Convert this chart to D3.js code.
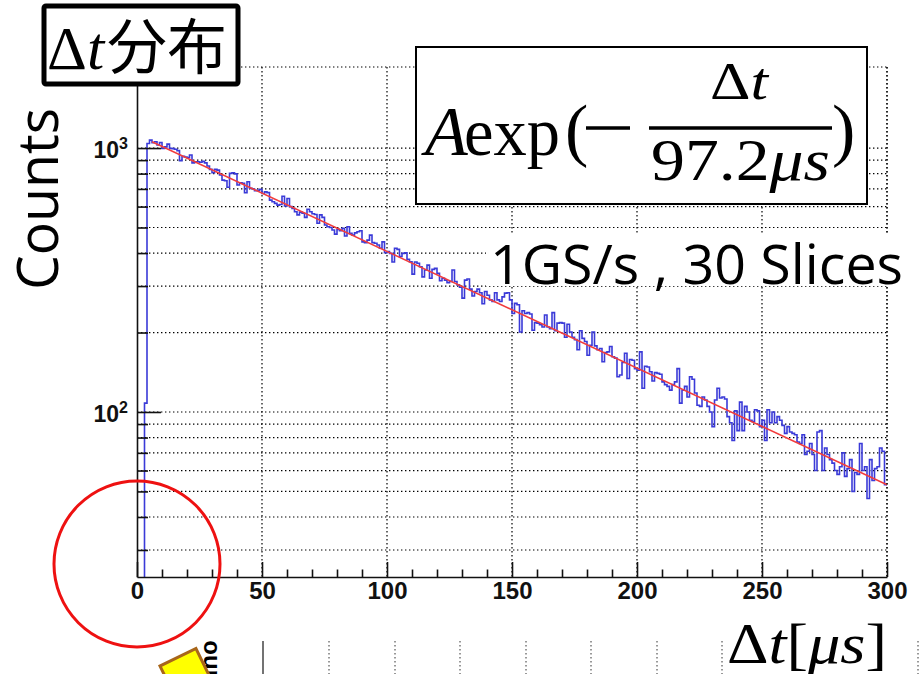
<!DOCTYPE html>
<html>
<head>
<meta charset="utf-8">
<script src="https://cdn.jsdelivr.net/npm/d3@7"></script>
<style>
  body { margin: 0; background: #fff; }
  svg { display: block; }
</style>
</head>
<body>
<div id="chart"></div>
<script>
// counts per 1 µs bin, Δt = 0 .. 299 µs
const binCounts = [
  0, 0, 0, 108, 1040, 1072, 1047, 1056, 1027, 1050,
  997, 1010, 1035, 997, 995, 990, 978, 896, 930, 925,
  920, 941, 879, 887, 887, 884, 890, 879, 855, 830,
  806, 830, 825, 790, 756, 752, 710, 802, 806, 798,
  724, 739, 735, 677, 745, 704, 700, 689, 692, 697,
  673, 682, 678, 635, 626, 617, 608, 611, 657, 603,
  644, 600, 591, 574, 558, 572, 566, 546, 586, 574,
  564, 560, 519, 558, 546, 511, 503, 500, 489, 472,
  492, 486, 496, 464, 503, 475, 468, 477, 482, 486,
  441, 438, 448, 468, 438, 436, 429, 417, 441, 401,
  405, 399, 370, 417, 413, 388, 399, 401, 379, 371,
  333, 370, 366, 355, 325, 345, 360, 321, 347, 350,
  335, 314, 321, 316, 309, 312, 345, 312, 303, 297,
  270, 316, 319, 292, 275, 286, 292, 283, 257, 286,
  277, 266, 262, 283, 266, 262, 273, 282, 283, 266,
  236, 258, 255, 201, 242, 236, 238, 235, 204, 218,
  217, 214, 210, 233, 210, 207, 238, 203, 217, 218,
  217, 192, 215, 201, 192, 188, 172, 203, 190, 185,
  164, 179, 201, 178, 172, 174, 155, 168, 169, 177,
  162, 160, 136, 138, 154, 167, 134, 158, 157, 146,
  144, 169, 123, 149, 148, 142, 131, 141, 140, 139,
  130, 127, 125, 121, 127, 130, 146, 108, 121, 125,
  114, 136, 133, 118, 106, 105, 114, 111, 105, 100,
  88, 111, 123, 113, 114, 112, 96, 91, 78, 101,
  85, 109, 85, 105, 100, 93, 92, 102, 101, 88,
  93, 78, 102, 91, 100, 91, 96, 93, 89, 83,
  88, 84, 83, 82, 77, 76, 82, 69, 71, 76,
  69, 60, 84, 85, 60, 73, 69, 66, 64, 60,
  58, 62, 70, 57, 61, 66, 50, 59, 58, 76,
  60, 62, 47, 66, 55, 61, 62, 73, 71, 53
];

// fitted exponential, read at both ends of the red line
const fitPoints = [
  { t: 6, count: 1056 },
  { t: 300, count: 53 }
];

const xDomain = [0, 300];
const yDomain = [23.7, 2028];
const xMajorTicks = [0, 50, 100, 150, 200, 250, 300];
const xMinorTicks = [10, 20, 30, 40, 60, 70, 80, 90, 110, 120, 130, 140, 160, 170, 180, 190,
                     210, 220, 230, 240, 260, 270, 280, 290];
const yMajorTicks = [100, 1000];
const yMinorTicks = [30, 40, 50, 60, 70, 80, 90, 200, 300, 400, 500, 600, 700, 800, 900];

const yTitle = "Counts";
const settingsText = "1GS/s , 30 Slices";
const tauText = "97.2";

const W = 919, H = 674;
const margin = { top: 67, right: 32, bottom: 97, left: 137 };
const width = W - margin.left - margin.right;
const height = H - margin.top - margin.bottom;

const svg = d3.select("#chart").append("svg")
  .attr("width", W)
  .attr("height", H);

svg.append("rect").attr("width", W).attr("height", H).attr("fill", "#fff");

// ---- bits of the slide underneath (only the strip below the canvas shows)
svg.append("clipPath").attr("id", "underClip")
  .append("rect").attr("x", 0).attr("y", 640).attr("width", W).attr("height", 40);

const under = svg.append("g").attr("clip-path", "url(#underClip)");
under.append("line")
  .attr("x1", 263).attr("x2", 263).attr("y1", 641).attr("y2", H)
  .style("stroke", "#444").style("stroke-width", 1.5);
[329, 395, 460, 526, 591, 657, 722, 918].forEach(x => {
  under.append("line")
    .attr("x1", x).attr("x2", x).attr("y1", 641).attr("y2", H)
    .style("stroke", "#333").style("stroke-width", 1)
    .style("stroke-dasharray", "1.5,2.5");
});
under.append("text")
  .attr("transform", "translate(204,623) rotate(90)")
  .style("font-family", "'Liberation Sans', Arial, sans-serif")
  .style("font-weight", "bold")
  .style("font-size", "24px")
  .text("Counts");
under.append("rect")
  .attr("x", 0).attr("y", 0).attr("width", 40).attr("height", 40)
  .attr("transform", "translate(160,666) rotate(-26)")
  .style("fill", "#ffff00").style("stroke", "#a8661a").style("stroke-width", 3);

// ---- ROOT canvas
const chart = svg.append("g")
  .attr("transform", `translate(${margin.left},${margin.top})`);

const xScale = d3.scaleLinear().domain(xDomain).range([0, width]);
const yScale = d3.scaleLog().domain(yDomain).range([height, 0]);

const dotted = sel => sel
  .style("stroke", "#000")
  .style("stroke-width", 1.2)
  .style("stroke-dasharray", "1.4,2.6");

// grid
chart.append("g").attr("class", "grid-x")
  .selectAll("line")
  .data(xMajorTicks.slice(1))
  .enter().append("line")
  .attr("x1", d => xScale(d)).attr("x2", d => xScale(d))
  .attr("y1", 0).attr("y2", height)
  .call(dotted);

chart.append("g").attr("class", "grid-y")
  .selectAll("line")
  .data(yMajorTicks.concat(yMinorTicks))
  .enter().append("line")
  .attr("x1", 0).attr("x2", width)
  .attr("y1", d => yScale(d)).attr("y2", d => yScale(d))
  .call(dotted);

chart.append("line")
  .attr("x1", 0).attr("x2", width).attr("y1", 0).attr("y2", 0)
  .call(dotted);

// histogram
const histPoints = [];
const firstBin = binCounts.findIndex(c => c > 0);
histPoints.push({ t: firstBin, count: yDomain[0] });
binCounts.forEach((c, i) => {
  if (i >= firstBin) histPoints.push({ t: i, count: c });
});
histPoints.push({ t: binCounts.length, count: binCounts[binCounts.length - 1] });

const histLine = d3.line()
  .x(d => xScale(d.t))
  .y(d => yScale(d.count))
  .curve(d3.curveStepAfter);

chart.append("path")
  .datum(histPoints)
  .attr("d", histLine)
  .style("fill", "none")
  .style("stroke", "#3a3ad8")
  .style("stroke-width", 1.6);

// fit
chart.append("path")
  .datum(fitPoints)
  .attr("d", d3.line().x(d => xScale(d.t)).y(d => yScale(d.count)))
  .style("fill", "none")
  .style("stroke", "#f23c3c")
  .style("stroke-width", 1.5);

// axes
const tickFont = "'Liberation Sans', Arial, Helvetica, sans-serif";

const xAxis = d3.axisBottom(xScale)
  .tickValues(xMajorTicks).tickSize(-15).tickSizeOuter(0).tickPadding(5)
  .tickFormat(d3.format("d"));
const xAxisG = chart.append("g")
  .attr("class", "x-axis")
  .attr("transform", `translate(0,${height})`)
  .call(xAxis);
chart.append("g")
  .attr("transform", `translate(0,${height})`)
  .call(d3.axisBottom(xScale).tickValues(xMinorTicks).tickSize(-7.5).tickFormat(""))
  .select(".domain").remove();

const yAxis = d3.axisLeft(yScale)
  .tickValues(yMajorTicks).tickSize(-24).tickSizeOuter(0).tickPadding(9);
const yAxisG = chart.append("g").attr("class", "y-axis").call(yAxis);
chart.append("g")
  .call(d3.axisLeft(yScale).tickValues(yMinorTicks).tickSize(-11).tickFormat(""))
  .select(".domain").remove();

chart.selectAll(".x-axis .domain, .y-axis .domain")
  .style("stroke", "#111").style("stroke-width", 1.6);
chart.selectAll(".tick line").style("stroke", "#111").style("stroke-width", 1.6);

xAxisG.selectAll("text")
  .style("font-family", tickFont).style("font-weight", "bold")
  .style("font-size", "24px").style("fill", "#111");

yAxisG.selectAll("text")
  .attr("dy", "0.42em")
  .style("font-family", tickFont).style("font-weight", "bold")
  .style("font-size", "23px").style("fill", "#111")
  .each(function (d) {
    const t = d3.select(this).text("");
    t.append("tspan").text("10");
    t.append("tspan").attr("dy", "-9").style("font-size", "16px")
      .text(Math.round(Math.log10(d)));
  });

// right frame edge
chart.append("line")
  .attr("x1", width).attr("x2", width).attr("y1", 0).attr("y2", height)
  .call(dotted);

// ---- slide annotations
const mathFont = "'Liberation Serif', 'Times New Roman', serif";
const sansFont = "'Open Sans', 'Noto Sans', sans-serif";

// title box
svg.append("rect")
  .attr("x", 44).attr("y", 6).attr("width", 194).attr("height", 78).attr("rx", 2)
  .style("fill", "#fff").style("stroke", "#000").style("stroke-width", 5);
const title = svg.append("text").attr("x", 47).attr("y", 69).style("font-size", "62px");
title.append("tspan").style("font-family", mathFont).text("Δ");
title.append("tspan").style("font-family", mathFont).style("font-style", "italic").text("t");
title.append("tspan").attr("dx", 3)
  .style("font-family", "'Noto Sans CJK JP', 'Noto Sans CJK SC', sans-serif")
  .style("font-size", "60px").text("分布");

// y title
svg.append("text")
  .attr("transform", "translate(58,199) rotate(-90)")
  .attr("text-anchor", "middle")
  .attr("textLength", 182).attr("lengthAdjust", "spacingAndGlyphs")
  .style("font-family", sansFont).style("font-size", "56px")
  .text(yTitle);

// formula box
svg.append("rect")
  .attr("x", 416).attr("y", 47).attr("width", 451).attr("height", 157)
  .style("fill", "#fff").style("stroke", "#000").style("stroke-width", 2);
const formula = svg.append("g").style("font-family", mathFont).style("fill", "#000");
formula.append("text").attr("x", 425).attr("y", 155).style("font-size", "70px")
  .style("font-style", "italic").text("A");
formula.append("text").attr("x", 464).attr("y", 155).style("font-size", "68px")
  .attr("textLength", 96).attr("lengthAdjust", "spacingAndGlyphs").text("exp");
formula.append("text").attr("x", 565).attr("y", 153).style("font-size", "70px").text("(");
formula.append("line")
  .attr("x1", 586).attr("x2", 630).attr("y1", 128).attr("y2", 128)
  .style("stroke", "#000").style("stroke-width", 3.5);
formula.append("line")
  .attr("x1", 649).attr("x2", 832).attr("y1", 128).attr("y2", 128)
  .style("stroke", "#000").style("stroke-width", 3.5);
const num = formula.append("text").attr("x", 710).attr("y", 99)
  .attr("textLength", 58).attr("lengthAdjust", "spacingAndGlyphs")
  .style("font-size", "52px");
num.append("tspan").text("Δ");
num.append("tspan").style("font-style", "italic").text("t");
const den = formula.append("text").attr("x", 651).attr("y", 180)
  .attr("textLength", 179).attr("lengthAdjust", "spacingAndGlyphs")
  .style("font-size", "60px");
den.append("tspan").text(tauText);
den.append("tspan").style("font-style", "italic").text("μs");
formula.append("text").attr("x", 832).attr("y", 153).style("font-size", "70px").text(")");

// settings label
svg.append("rect")
  .attr("x", 486).attr("y", 234).attr("width", 422).attr("height", 52)
  .style("fill", "#fff");
svg.append("text")
  .attr("x", 490).attr("y", 284)
  .attr("textLength", 413).attr("lengthAdjust", "spacingAndGlyphs")
  .style("font-family", sansFont).style("font-size", "54px")
  .text(settingsText);

// x title
svg.append("rect")
  .attr("x", 724).attr("y", 612).attr("width", 176).attr("height", 62).style("fill", "#fff");
const xt = svg.append("text").attr("x", 727).attr("y", 663)
  .attr("textLength", 160).attr("lengthAdjust", "spacingAndGlyphs")
  .style("font-family", mathFont).style("font-size", "58px");
xt.append("tspan").text("Δ");
xt.append("tspan").style("font-style", "italic").text("t");
xt.append("tspan").text("[");
xt.append("tspan").style("font-style", "italic").text("μs");
xt.append("tspan").text("]");

// red circle
svg.append("circle")
  .attr("cx", 137).attr("cy", 564).attr("r", 83)
  .style("fill", "none").style("stroke", "#ee1111").style("stroke-width", 3);
</script>
</body>
</html>
